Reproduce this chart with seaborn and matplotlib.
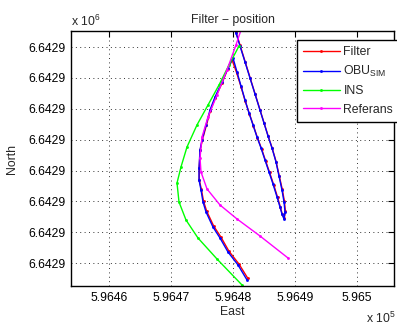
import numpy as np
import pandas as pd
import matplotlib
matplotlib.use("Agg")
import matplotlib.pyplot as plt
from matplotlib.ticker import FuncFormatter, FixedLocator
import seaborn as sns

# ---- data (East / North in metres, given as offsets from a base) ----
E0 = 596400.0
N0 = 6642800.0

filter_e = [82.40, 80.95, 79.35, 78.05, 76.90, 75.75, 75.25, 74.90, 74.55, 74.55, 74.70, 75.05,
            75.70, 76.35, 77.15, 78.25, 79.15, 79.85, 80.60, 81.30, 81.95, 82.65, 83.30, 83.95,
            84.60, 85.25, 85.90, 86.55, 87.20, 87.65, 87.95, 88.25, 88.45, 88.30, 87.95, 87.45,
            86.95, 86.30, 85.65, 85.00, 84.35, 83.55, 82.75, 81.95, 81.15, 80.50, 80.15]
filter_n = [65.10, 69.80, 73.90, 78.50, 82.00, 86.90, 90.10, 93.90, 97.10, 100.90, 106.60, 109.80,
            114.60, 119.40, 123.60, 128.40, 132.90, 135.80, 131.60, 127.10, 122.60, 118.40, 114.50, 110.60,
            107.10, 103.20, 99.40, 95.50, 91.30, 88.10, 85.90, 84.50, 86.80, 90.00, 93.90, 98.40,
            102.90, 107.40, 111.30, 115.50, 119.70, 124.90, 130.10, 135.30, 140.50, 144.70, 147.00]

obu_e = [82.26, 80.81, 79.19, 77.90, 76.77, 75.65, 75.16, 74.84, 74.52, 74.52, 74.68, 75.00,
         75.65, 76.29, 77.10, 78.23, 79.19, 80.00, 80.65, 81.29, 81.94, 82.58, 83.23, 83.87,
         84.52, 85.16, 85.81, 86.45, 87.10, 87.58, 87.90, 88.23, 88.39, 88.23, 87.90, 87.42,
         86.94, 86.29, 85.65, 85.00, 84.35, 83.55, 82.74, 81.94, 81.13, 80.48, 80.16]
obu_n = [64.60, 69.45, 73.66, 78.19, 81.75, 86.60, 89.84, 93.72, 96.96, 100.84, 106.67, 109.90,
         114.76, 119.61, 123.82, 128.67, 133.20, 136.44, 131.91, 127.38, 122.85, 118.64, 114.76, 110.87,
         107.31, 103.43, 99.55, 95.66, 91.46, 88.22, 85.96, 84.34, 86.60, 89.84, 93.72, 98.25,
         102.78, 107.31, 111.20, 115.40, 119.61, 124.79, 129.97, 135.15, 140.32, 144.53, 146.80]

ins_e = [81.45, 77.42, 74.35, 72.42, 71.29, 70.97, 71.61, 72.58, 74.19, 75.97, 77.74, 79.35, 80.97]
ins_n = [62.98, 71.39, 78.19, 84.01, 89.84, 95.99, 101.17, 107.64, 114.76, 121.23, 127.70, 134.17, 140.32]

ref_e = [88.87, 84.35, 80.65, 77.90, 75.81, 74.84, 74.68, 75.00, 75.97, 77.42, 79.03, 80.48, 81.45]
ref_n = [71.72, 78.84, 84.34, 88.87, 94.05, 99.55, 104.08, 110.87, 117.35, 124.47, 132.56, 140.65, 146.47]

series_names = ["Filter", "OBU$_{SIM}$", "INS", "Referans"]
series_colors = ["#ff0000", "#0000ff", "#00ff00", "#ff00ff"]

x_ticks = [596460, 596470, 596480, 596490, 596500]
y_ticks = [6642870, 6642880, 6642890, 6642900, 6642910, 6642920, 6642930, 6642940]

# ---- style ----
sns.set_style("white")
plt.rcParams["font.family"] = ["Liberation Sans", "DejaVu Sans"]
plt.rcParams["mathtext.default"] = "regular"
FS = 8.8

W, H = 397, 327
fig = plt.figure(figsize=(W / 100, H / 100), dpi=100)
fig.patch.set_facecolor("white")
ax = fig.add_axes([71 / W, 1 - 286 / H, (394 - 71) / W, (286 - 31) / H])
ax.set_facecolor("white")

data = [(filter_e, filter_n), (obu_e, obu_n), (ins_e, ins_n), (ref_e, ref_n)]
for (e, n), name, col in zip(data, series_names, series_colors):
    df = pd.DataFrame({"East": np.asarray(e) + E0, "North": np.asarray(n) + N0})
    sns.lineplot(data=df, x="East", y="North", sort=False, estimator=None,
                 color=col, linewidth=1.0, marker=".", markersize=3,
                 markeredgecolor=col, markerfacecolor=col, markeredgewidth=0.5,
                 label=name, ax=ax)

ax.set_xlim(E0 + 53.87, E0 + 105.97)
ax.set_ylim(N0 + 62.65, N0 + 145.18)
ax.xaxis.set_major_locator(FixedLocator(x_ticks))
ax.yaxis.set_major_locator(FixedLocator(y_ticks))
ax.xaxis.set_major_formatter(FuncFormatter(lambda v, p: f"{v / 1e5:.5g}"))
ax.yaxis.set_major_formatter(FuncFormatter(lambda v, p: f"{v / 1e6:.4f}"))

ax.tick_params(direction="in", length=4, width=0.8, top=True, right=True,
               labelsize=FS, colors="black", pad=4)
ax.grid(True, linestyle=(0, (1, 3.5)), color="#333333", linewidth=0.7)
for sp in ax.spines.values():
    sp.set_visible(True)
    sp.set_color("black")
    sp.set_linewidth(1.0)

ax.set_title("Filter \u2212 position", fontsize=FS, pad=6)
ax.set_xlabel("East", fontsize=FS)
ax.set_ylabel("North", fontsize=FS)
ax.xaxis.set_label_coords(0.5, -0.08)
ax.yaxis.set_label_coords(-0.165, 0.5)

fig.text(71 / W, 1 - 26 / H, "x 10$^{6}$", fontsize=FS, ha="left", va="baseline")
fig.text(366 / W, 1 - 323 / H, "x 10$^{5}$", fontsize=FS, ha="left", va="baseline")

leg = ax.legend(loc="upper left", bbox_to_anchor=(297 / W, 1 - 40 / H),
                bbox_transform=fig.transFigure, fontsize=FS, frameon=True,
                fancybox=False, edgecolor="black", framealpha=1, borderpad=0.5,
                borderaxespad=0, labelspacing=0.5, handlelength=3.0,
                handletextpad=0.3, numpoints=1)
leg.get_frame().set_linewidth(1.0)

fig.savefig("out.png", dpi=100, facecolor="white")
